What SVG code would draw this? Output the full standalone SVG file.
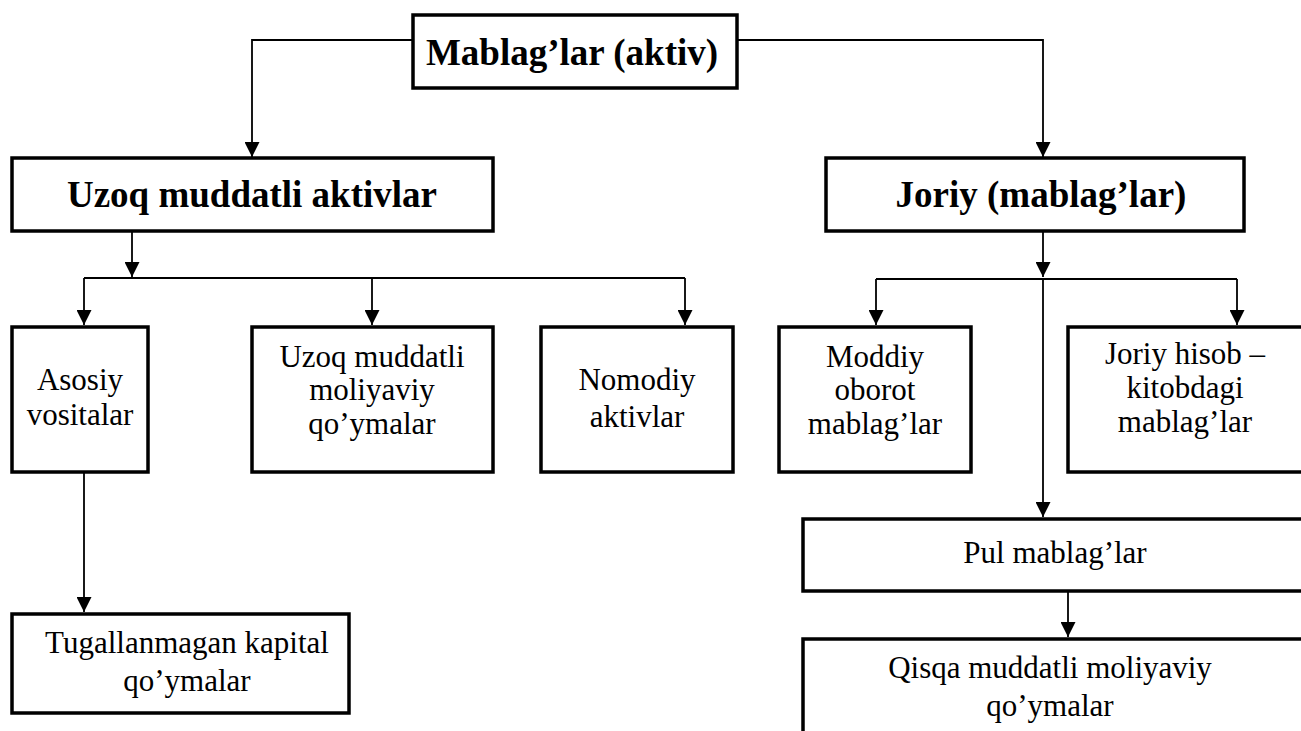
<svg xmlns="http://www.w3.org/2000/svg" width="1301" height="731" viewBox="0 0 1301 731">
<defs>
<marker id="ah" viewBox="0 0 10 10" refX="10" refY="5" markerWidth="16" markerHeight="15" markerUnits="userSpaceOnUse" orient="auto">
<path d="M0,0 L10,5 L0,10 z" fill="#000"/>
</marker>
<style>
.box{fill:#fff;stroke:#000;stroke-width:3.5}
.ln{fill:none;stroke:#000;stroke-width:1.8}
.b{font-family:"Liberation Serif","Times New Roman",serif;font-weight:bold;font-size:37px;text-anchor:middle;fill:#000}
.t{font-family:"Liberation Serif","Times New Roman",serif;font-size:31px;text-anchor:middle;fill:#000}
</style>
</defs>
<rect width="1301" height="731" fill="#fff"/>
<g id="connectors">
<path class="ln" d="M413,40 H252 V157" marker-end="url(#ah)"/>
<path class="ln" d="M737,40 H1043 V157" marker-end="url(#ah)"/>
<path class="ln" d="M132,231 V277" marker-end="url(#ah)"/>
<path class="ln" d="M84,278 H685"/>
<path class="ln" d="M84,278 V325" marker-end="url(#ah)"/>
<path class="ln" d="M372,278 V325" marker-end="url(#ah)"/>
<path class="ln" d="M685,278 V325" marker-end="url(#ah)"/>
<path class="ln" d="M1043,231 V277" marker-end="url(#ah)"/>
<path class="ln" d="M876,279 H1237"/>
<path class="ln" d="M876,279 V325" marker-end="url(#ah)"/>
<path class="ln" d="M1237,279 V325" marker-end="url(#ah)"/>
<path class="ln" d="M1043,279 V517" marker-end="url(#ah)"/>
<path class="ln" d="M1068,591 V637" marker-end="url(#ah)"/>
<path class="ln" d="M84,472 V612" marker-end="url(#ah)"/>
</g>
<g id="n-mablaglar"><rect class="box" x="413" y="15" width="324" height="73"/><text class="b" x="572" y="65" font-size="34">Mablag’lar (aktiv)</text></g>
<g id="n-uzoq"><rect class="box" x="12" y="158" width="481" height="73"/><text class="b" x="252" y="207">Uzoq muddatli aktivlar</text></g>
<g id="n-joriy"><rect class="box" x="826" y="158" width="418" height="73"/><text class="b" x="1041" y="207">Joriy (mablag’lar)</text></g>
<g id="n-asosiy"><rect class="box" x="12" y="327" width="136" height="145"/><text class="t" x="80" y="390">Asosiy</text><text class="t" x="80" y="425">vositalar</text></g>
<g id="n-uzoqmol"><rect class="box" x="252" y="327" width="241" height="145"/><text class="t" x="372" y="367">Uzoq muddatli</text><text class="t" x="372" y="400">moliyaviy</text><text class="t" x="372" y="434">qo’ymalar</text></g>
<g id="n-nomodiy"><rect class="box" x="541" y="327" width="192" height="145"/><text class="t" x="637" y="390">Nomodiy</text><text class="t" x="637" y="427">aktivlar</text></g>
<g id="n-moddiy"><rect class="box" x="779" y="327" width="192" height="145"/><text class="t" x="875" y="367">Moddiy</text><text class="t" x="875" y="400">oborot</text><text class="t" x="875" y="434">mablag’lar</text></g>
<g id="n-joriyhisob"><rect class="box" x="1068" y="327" width="240" height="145"/><text class="t" x="1185" y="364" font-size="25">Joriy hisob –</text><text class="t" x="1185" y="398">kitobdagi</text><text class="t" x="1185" y="432">mablag’lar</text></g>
<g id="n-pul"><rect class="box" x="803" y="519" width="505" height="72"/><text class="t" x="1055" y="563">Pul mablag’lar</text></g>
<g id="n-qisqa"><rect class="box" x="803" y="639" width="505" height="100"/><text class="t" x="1050" y="678">Qisqa muddatli moliyaviy</text><text class="t" x="1050" y="716">qo’ymalar</text></g>
<g id="n-tugallanmagan"><rect class="box" x="12" y="614" width="337" height="99"/><text class="t" x="187" y="653" font-size="30">Tugallanmagan kapital</text><text class="t" x="187" y="691" font-size="30">qo’ymalar</text></g>
</svg>
